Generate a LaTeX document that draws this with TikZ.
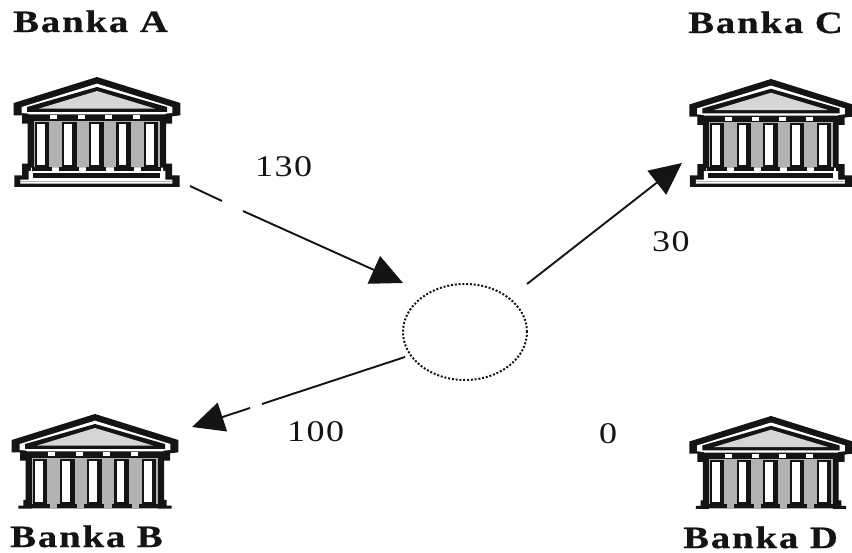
\documentclass[tikz,border=0pt]{standalone}
\usepackage{fontspec}
\usetikzlibrary{arrows.meta,shapes.geometric}
\newfontfamily\banklabelfont[FakeStretch=1.25,LetterSpace=6,FakeBold=0.6]{Liberation Serif Bold}
\newfontfamily\numlabelfont[FakeStretch=1.2,LetterSpace=5]{Liberation Serif}
\definecolor{inkc}{gray}{0.08}
\definecolor{dithera}{gray}{0.70}
\definecolor{ditherb}{gray}{0.84}
\newcommand{\bankupper}{%
  \fill[white] (0,20) -- (226,90) -- (226,108) -- (205,110) -- (205,112) -- (-205,112) -- (-205,110) -- (-226,108) -- (-226,90) -- cycle;
  \fill[white] (-190,130) rectangle (190,275);
  \fill[inkc] (0,30) -- (210,90) -- (210,105) -- (-210,105) -- (-210,90) -- cycle;
  \fill[ditherb] (0,42) -- (175,95) -- (-175,95) -- cycle;
  \fill[inkc] (-203,113) rectangle (203,132);
  \foreach \fx in {-140,-57,25,108} {\fill[white] (\fx,115) rectangle ++(20,12);}
}
\newcommand{\bankcolumns}{%
  \foreach \cx in {-165,-83,-2,80,162} {
    \fill[inkc] (\cx-22,134) rectangle (\cx+22,270);
    \fill[white] (\cx-15,140) rectangle (\cx+8,264);
    \fill[inkc] (\cx-30,269) rectangle (\cx+30,281);
  }
}
\tikzset{
  banknode/.style={rectangle,inner sep=0pt,minimum width=166pt,minimum height=#1},
  banklabel/.style={anchor=base west,inner sep=0pt,text=inkc,font=\fontsize{31}{36}\banklabelfont},
  numlabel/.style={anchor=base west,inner sep=0pt,text=inkc,font=\fontsize{30}{36}\numlabelfont},
  flow/.style={draw=inkc,line width=1.9pt},
  flowhead/.style={flow,-{Triangle[length=32pt,width=30pt]}},
  hubnode/.style={ellipse,draw=inkc,line width=2pt,dash pattern=on 2pt off 1.8pt,minimum width=124pt,minimum height=96pt,inner sep=0pt},
  pics/bankfull/.style={code={
    \begin{scope}
      \fill[inkc] (0,0) -- (250,78) -- (250,115) -- (225,118) -- (225,140) -- (207,140) -- (207,260) -- (225,260) -- (225,295) -- (248,295) -- (248,330) -- (-248,330) -- (-248,295) -- (-225,295) -- (-225,260) -- (-208,260) -- (-208,140) -- (-225,140) -- (-225,115) -- (-250,115) -- (-250,78) -- cycle;
      \bankupper
      \fill[dithera] (-190,132) rectangle (190,272);
      \fill[white] (-198,272) -- (198,272) -- (198,282) -- (205,282) -- (205,308) -- (226,308) -- (226,320) -- (-230,320) -- (-230,308) -- (-205,308) -- (-205,282) -- (-198,282) -- cycle;
      \bankcolumns
      \fill[inkc] (-192,288) rectangle (190,303);
      \fill[dithera] (-230,311) rectangle (226,315);
    \end{scope}}},
  pics/bankopen/.style={code={
    \begin{scope}
      \fill[inkc] (0,0) -- (250,78) -- (250,115) -- (225,118) -- (225,140) -- (207,140) -- (207,258) -- (215,258) -- (215,275) -- (230,275) -- (230,284) -- (-230,284) -- (-230,275) -- (-215,275) -- (-215,258) -- (-208,258) -- (-208,140) -- (-225,140) -- (-225,115) -- (-250,115) -- (-250,78) -- cycle;
      \bankupper
      \fill[dithera] (-190,132) rectangle (190,284);
      \bankcolumns
    \end{scope}}},
}
\begin{document}
\begin{tikzpicture}[x=1pt,y=-1pt]
\useasboundingbox (0,0) rectangle (852,553);
\fill[white] (0,0) rectangle (852,553);
% banks
\pic[scale=1/3] at (97,77) {bankfull};
\pic[scale=0.327] at (771,79) {bankfull};
\pic[scale=1/3] at (95,414) {bankopen};
\pic[scale=0.327] at (771,416) {bankopen};
\node[banknode=110pt] (a) at (97,132) {};
\node[banknode=110pt] (c) at (771,134) {};
\node[banknode=94pt] (b) at (95,461) {};
\node[banknode=94pt] (d) at (771,463) {};
% hub
\node[hubnode] (hub) at (465,332) {};
% connector ends
\coordinate (aout) at (190,186);
\coordinate (again1) at (222,201);
\coordinate (again2) at (243,211);
\coordinate (ain) at (403,283);
\coordinate (cout) at (527,284);
\coordinate (cin) at (682,163);
\coordinate (bout) at (405,357);
\coordinate (bgap1) at (262,404);
\coordinate (bgap2) at (250,408);
\coordinate (bin) at (192,427);
\draw[flow] (aout) -- (again1);
\draw[flowhead] (again2) -- (ain);
\draw[flowhead] (cout) -- (cin);
\draw[flow] (bout) -- (bgap1);
\draw[flowhead] (bgap2) -- (bin);
% labels
\node[banklabel] (la) at (13,32) {Banka A};
\node[banklabel] (lc) at (688,33) {Banka C};
\node[banklabel] (lb) at (10,547) {Banka B};
\node[banklabel] (ld) at (683,548) {Banka D};
\node[numlabel] (n130) at (255,177) {130};
\node[numlabel] (n30) at (652,252) {30};
\node[numlabel] (n100) at (287,442) {100};
\node[numlabel] (n0) at (599,443) {0};
\end{tikzpicture}
\end{document}
